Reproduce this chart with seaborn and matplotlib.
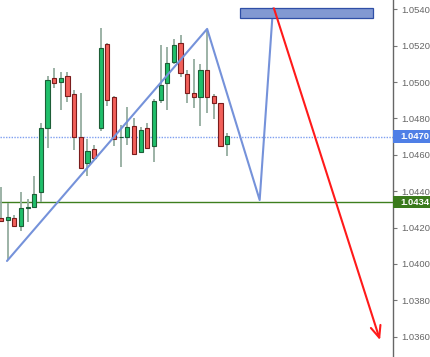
import numpy as np
import pandas as pd
import matplotlib
matplotlib.use("Agg")
import matplotlib.pyplot as plt
import matplotlib.transforms as mtransforms
from matplotlib.patches import Rectangle
import seaborn as sns

# candle data (one entry per bar)
opens = [1.04252, 1.04241, 1.04252, 1.04208, 1.04310, 1.04313, 1.04395, 1.04747,
         1.05022, 1.05000, 1.05033, 1.04934, 1.04698, 1.04555, 1.04632, 1.04747,
         1.05209, 1.04918, 1.04695, 1.04698, 1.04758, 1.04615, 1.04747, 1.04648,
         1.04901, 1.04995, 1.05110, 1.05214, 1.05044, 1.04940, 1.04918, 1.05066,
         1.04923, 1.04885, 1.04659]
highs = [1.04423, 1.04335, 1.04269, 1.04395, 1.04356, 1.04483, 1.04775, 1.05033,
         1.05077, 1.05055, 1.05055, 1.04956, 1.04940, 1.04686, 1.04654, 1.05297,
         1.05214, 1.04923, 1.04764, 1.04863, 1.04802, 1.04753, 1.04775, 1.04907,
         1.05203, 1.05192, 1.05236, 1.05258, 1.05066, 1.05127, 1.05099, 1.05292,
         1.04934, 1.04885, 1.04720]
lows = [1.04230, 1.04021, 1.04203, 1.04181, 1.04230, 1.04308, 1.04340, 1.04637,
        1.04967, 1.04846, 1.04890, 1.04626, 1.04525, 1.04483, 1.04571, 1.04731,
        1.04868, 1.04648, 1.04533, 1.04654, 1.04599, 1.04610, 1.04632, 1.04560,
        1.04885, 1.04846, 1.05099, 1.05028, 1.04885, 1.04857, 1.04758, 1.04830,
        1.04797, 1.04648, 1.04593]
closes = [1.04236, 1.04258, 1.04208, 1.04307, 1.04315, 1.04384, 1.04747, 1.05011,
          1.04995, 1.05022, 1.04923, 1.04698, 1.04527, 1.04621, 1.04582, 1.05187,
          1.04901, 1.04686, 1.04700, 1.04753, 1.04604, 1.04736, 1.04637, 1.04896,
          1.04984, 1.05104, 1.05203, 1.05050, 1.04940, 1.04918, 1.05066, 1.04918,
          1.04885, 1.04648, 1.04703]

# drawn objects
zigzag_x = [0.9, 31.0, 38.9, 40.9]
zigzag_y = [1.04016, 1.05292, 1.04351, 1.05405]
arrow_start = (41.05, 1.05405)
arrow_end = (57.0, 1.03581)
zone_x = (35.9, 55.9)
zone_y = (1.05350, 1.05405)
last_price = 1.0470
support = 1.0434
yticks = [1.0360, 1.0380, 1.0400, 1.0420, 1.0440, 1.0460, 1.0480, 1.0500, 1.0520, 1.0540]

df = pd.DataFrame({"open": opens, "high": highs, "low": lows, "close": closes})
df["idx"] = np.arange(len(df))
df["up"] = df["close"] >= df["open"]

sns.set_theme(style="white")
plt.rcParams["font.family"] = ["Liberation Sans", "DejaVu Sans"]

fig = plt.figure(figsize=(4.31, 3.57), dpi=100)
ax = fig.add_axes([0, 0, 393 / 431, 1])

# wicks
ax.vlines(df["idx"], df["low"], df["high"], color="#94ad9f", linewidth=1.3, zorder=2)

# bodies
green, green_edge = "#1fbf6a", "#1d5e37"
red, red_edge = "#f2605a", "#7a1c1c"
height = (df["close"] - df["open"]).abs().clip(lower=0.00004)
bottom = df[["open", "close"]].min(axis=1)
ax.bar(df["idx"], height, bottom=bottom, width=0.62,
       color=np.where(df["up"], green, red),
       edgecolor=np.where(df["up"], green_edge, red_edge),
       linewidth=0.8, zorder=3)

# horizontal levels
ax.axhline(last_price, color="#7f9ff0", linestyle=(0, (1, 1)), linewidth=1.0, zorder=1)
ax.axhline(support, color="#3f7f1f", linewidth=1.0, zorder=1)

# zigzag pattern
sns.lineplot(x=zigzag_x, y=zigzag_y, sort=False, ax=ax, color="#7592da",
             linewidth=1.5, zorder=4)

# target zone
ax.add_patch(Rectangle((zone_x[0], zone_y[0]), zone_x[1] - zone_x[0], zone_y[1] - zone_y[0],
                       facecolor="#8299d2", edgecolor="#2f4fa6", linewidth=0.9, zorder=4))

# projected move
ax.annotate("", xy=arrow_end, xytext=arrow_start,
            arrowprops=dict(arrowstyle="->,head_length=0.7,head_width=0.3",
                            color="#ff1a1a", linewidth=1.5, shrinkA=0, shrinkB=0),
            zorder=5)

ax.set_xlim(-0.15, 58.95)
ax.set_ylim(1.03488, 1.05451)
ax.set_xticks([])
ax.yaxis.tick_right()
ax.set_yticks(yticks)
ax.set_yticklabels([f"{v:.4f}" for v in yticks])
ax.tick_params(axis="y", right=True, length=3, width=0.8, color="#777777",
               labelsize=6.8, labelcolor="#666666", pad=3)
for side in ["top", "left", "bottom"]:
    ax.spines[side].set_visible(False)
ax.spines["right"].set_color("#666666")
ax.spines["right"].set_linewidth(1.0)

# price tags on the axis
trans = mtransforms.blended_transform_factory(ax.transAxes, ax.transData)
tag_w = 431 / 393 - 1.0
tag_h = 0.00068
for level, colour in [(last_price, "#4f7fe6"), (support, "#3a7a1c")]:
    ax.add_patch(Rectangle((1.0, level - tag_h / 2), tag_w, tag_h, transform=trans,
                           facecolor=colour, edgecolor="none", clip_on=False, zorder=6))
    ax.text(1.0 + 7 / 393, level, f"{level:.4f}", transform=trans, ha="left", va="center",
            fontsize=6.8, fontweight="bold", color="white", clip_on=False, zorder=7)

fig.savefig("out.png", dpi=100)
plt.close(fig)
